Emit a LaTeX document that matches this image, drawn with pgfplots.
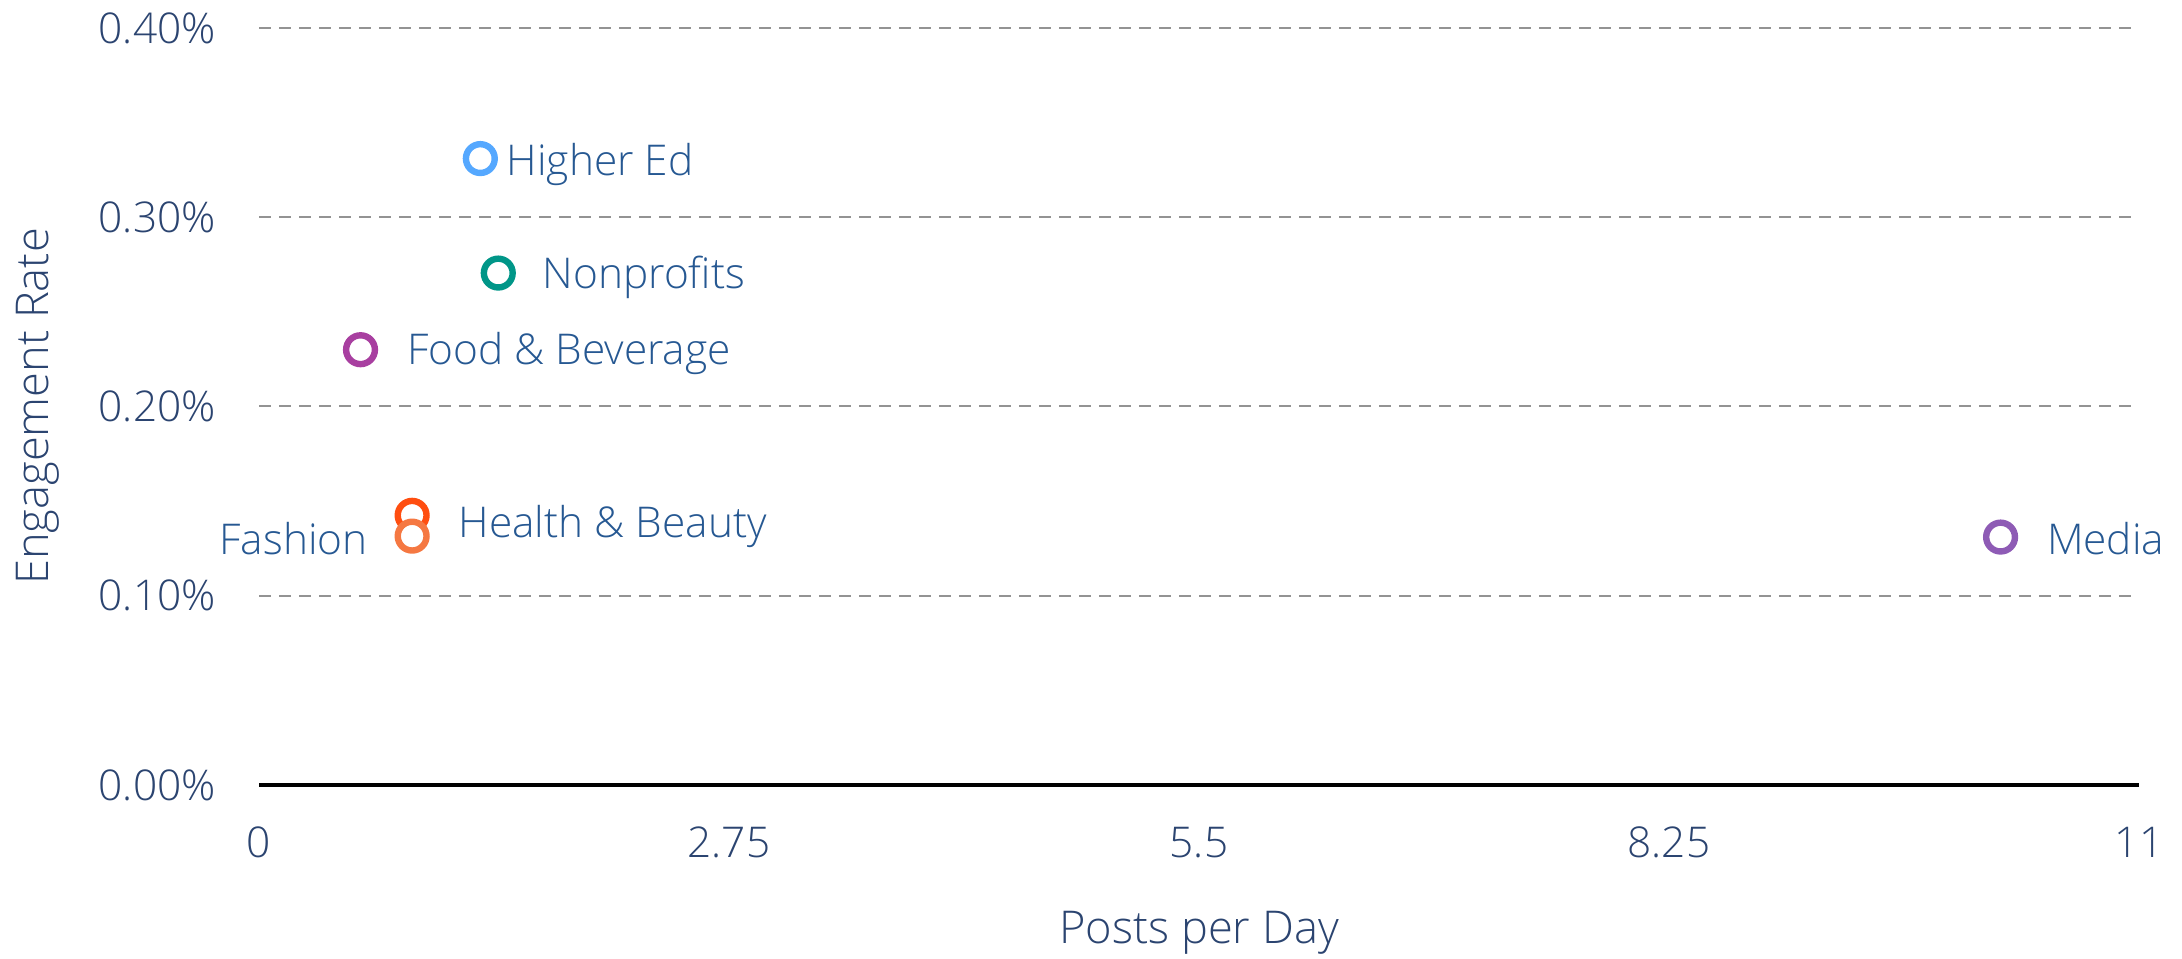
\documentclass[border=0pt]{standalone}
\usepackage{pgfplots}
\pgfplotsset{compat=1.18}
\usepackage{fontspec}
\setmainfont{Open Sans Light}
\definecolor{tickc}{RGB}{43,68,112}
\definecolor{labc}{RGB}{38,88,146}
\definecolor{cHE}{RGB}{85,168,255}
\definecolor{cNP}{RGB}{0,150,136}
\definecolor{cFB}{RGB}{168,63,160}
\definecolor{cHB}{RGB}{255,78,16}
\definecolor{cFA}{RGB}{245,120,66}
\definecolor{cME}{RGB}{142,91,181}
\begin{document}
\begin{tikzpicture}
\begin{axis}[
  scale only axis, width=470pt, height=189.25pt,
  xmin=0, xmax=11, ymin=0, ymax=0.4,
  axis lines*=left,
  x axis line style={-, black, line width=0.8pt},
  y axis line style={draw=none},
  major tick length=0pt,
  xtick={0,2.75,5.5,8.25,11},
  xticklabels={0,2.75,5.5,8.25,11},
  ytick={0,0.1,0.2,0.3,0.4},
  yticklabels={0.00\%,0.10\%,0.20\%,0.30\%,0.40\%},
  ymajorgrids,
  grid style={densely dashed, gray!85, line width=0.5pt},
  tick label style={font=\fontsize{10.6}{12}\selectfont, text=tickc},
  xticklabel style={yshift=-7pt},
  yticklabel style={xshift=-7.3pt},
  xlabel={Posts per Day},
  ylabel={Engagement Rate},
  every axis x label/.style={at={(axis description cs:0.5,0)}, yshift=-37pt, anchor=center, font=\fontsize{11.3}{13}\selectfont, text=tickc},
  every axis y label/.style={at={(axis description cs:0,0.5)}, xshift=-55.3pt, anchor=center, rotate=90, font=\fontsize{11.3}{13}\selectfont, text=tickc},
  every node near coord/.append style={font=\fontsize{10.6}{12}\selectfont, text=labc},
  clip=false,
]
\coordinate (O) at (axis cs:0,0);
\addplot[only marks, mark=*, mark size=3.6pt, mark options={draw=cHE, fill=white, line width=1.6pt},
  nodes near coords={Higher Ed}, nodes near coords align={anchor=west, xshift=2.5pt, yshift=-1.5pt}] coordinates {(1.295,0.331)};
\addplot[only marks, mark=*, mark size=3.6pt, mark options={draw=cNP, fill=white, line width=1.6pt},
  nodes near coords={Nonprofits}, nodes near coords align={anchor=west, xshift=7pt, yshift=-1pt}] coordinates {(1.40,0.2705)};
\addplot[only marks, mark=*, mark size=3.6pt, mark options={draw=cFB, fill=white, line width=1.6pt},
  nodes near coords={Food \& Beverage}, nodes near coords align={anchor=west, xshift=7.5pt, yshift=-1pt}] coordinates {(0.594,0.230)};
\addplot[only marks, mark=*, mark size=3.6pt, mark options={draw=cHB, fill=white, line width=1.6pt},
  nodes near coords={Health \& Beauty}, nodes near coords align={anchor=west, xshift=7.5pt, yshift=-2.75pt}] coordinates {(0.896,0.1425)};
\addplot[only marks, mark=*, mark size=3.6pt, mark options={draw=cFA, fill=white, line width=1.6pt},
  nodes near coords={Fashion}, nodes near coords align={anchor=east, xshift=-7pt, yshift=-0.5pt}] coordinates {(0.896,0.1315)};
\addplot[only marks, mark=*, mark size=3.6pt, mark options={draw=cME, fill=white, line width=1.6pt},
  nodes near coords={Media}, nodes near coords align={anchor=west, xshift=7.5pt, yshift=-0.5pt}] coordinates {(10.19,0.131)};
\end{axis}
\pgfresetboundingbox
\path (O) ++(-64.75pt,-43.5pt) rectangle ++(545.5pt,239.75pt);
\end{tikzpicture}
\end{document}
